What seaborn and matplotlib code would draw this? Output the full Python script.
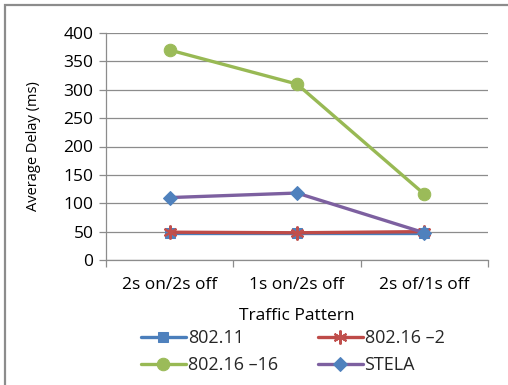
import matplotlib
matplotlib.use("Agg")
import matplotlib.pyplot as plt
from matplotlib.patches import Rectangle
import seaborn as sns
import pandas as pd

patterns = ["2s on/2s off", "1s on/2s off", "2s of/1s off"]
series_names = ["802.11", "802.16 \u20132", "802.16 \u201316", "STELA"]
delay_80211 = [48, 48, 48]
delay_80216_2 = [49, 48, 50]
delay_80216_16 = [370, 310, 116]
delay_stela = [110, 118, 48]

values = [delay_80211, delay_80216_2, delay_80216_16, delay_stela]
rows = []
for name, vals in zip(series_names, values):
    for p, v in zip(patterns, vals):
        rows.append({"Traffic Pattern": p, "Average Delay (ms)": v, "Series": name})
df = pd.DataFrame(rows)

sns.set_theme(style="white")
plt.rcParams["font.family"] = ["Open Sans", "DejaVu Sans"]

styles = {
    "802.11": dict(color="#4A7EBB", marker="s", markersize=7,
                   markerfacecolor="#4F81BD", markeredgecolor="#4F81BD"),
    "802.16 \u20132": dict(color="#BE4B48", marker=(6, 2, 0), markersize=10,
                           markeredgewidth=1.5, markeredgecolor="#C0504D"),
    "802.16 \u201316": dict(color="#98B954", marker="o", markersize=9,
                            markerfacecolor="#9BBB59", markeredgecolor="#9BBB59"),
    "STELA": dict(color="#7D60A0", marker="D", markersize=7,
                  markerfacecolor="#4F81BD", markeredgecolor="#4F81BD"),
}

fig = plt.figure(figsize=(5.08, 3.85), dpi=100)
ax = fig.add_axes([106 / 508, 1 - 260 / 385, 382 / 508, 227 / 385])

for name in series_names:
    sub = df[df["Series"] == name]
    sns.lineplot(data=sub, x="Traffic Pattern", y="Average Delay (ms)", ax=ax,
                 linewidth=2.4, label=name, sort=False, **styles[name])

ax.set_xlim(-0.5, 2.5)
ax.set_ylim(0, 400)
ax.set_yticks(range(0, 401, 50))
ax.yaxis.grid(True, color="#8C8C8C", linewidth=0.9)
ax.set_axisbelow(True)
for s in ["top", "right"]:
    ax.spines[s].set_visible(False)
for s in ["left", "bottom"]:
    ax.spines[s].set_color("#8C8C8C")
    ax.spines[s].set_linewidth(0.9)
ax.tick_params(axis="y", left=True, length=5, width=0.9, color="#8C8C8C",
               labelsize=12.5, pad=4, labelcolor="black")
ax.set_xticks([0, 1, 2])
ax.set_xticklabels(patterns)
ax.set_xticks([-0.5, 0.5, 1.5, 2.5], minor=True)
ax.tick_params(axis="x", which="major", length=0, labelsize=12.5, pad=12,
               labelcolor="black")
ax.tick_params(axis="x", which="minor", bottom=True, length=5, width=0.9,
               color="#8C8C8C")
ax.set_xlabel("Traffic Pattern", fontsize=12.5, labelpad=11, color="black")
ax.set_ylabel("Average Delay (ms)", fontsize=10.5, labelpad=16, color="black")

ax.get_legend().remove()
handles, labels = ax.get_legend_handles_labels()
order = [0, 2, 1, 3]
fig.legend([handles[i] for i in order], [labels[i] for i in order], ncol=2,
           loc="center", bbox_to_anchor=(0.576, 0.086), frameon=False,
           fontsize=13, handlelength=2.5, handletextpad=0.1,
           columnspacing=2.2, labelspacing=0.5)

fig.patches.append(Rectangle((5 / 508, -0.05), 1.1, 1 - 5 / 385 + 0.05,
                             transform=fig.transFigure, fill=False,
                             edgecolor="#8C8C8C", linewidth=1.6))

fig.savefig("out.png", dpi=100)
